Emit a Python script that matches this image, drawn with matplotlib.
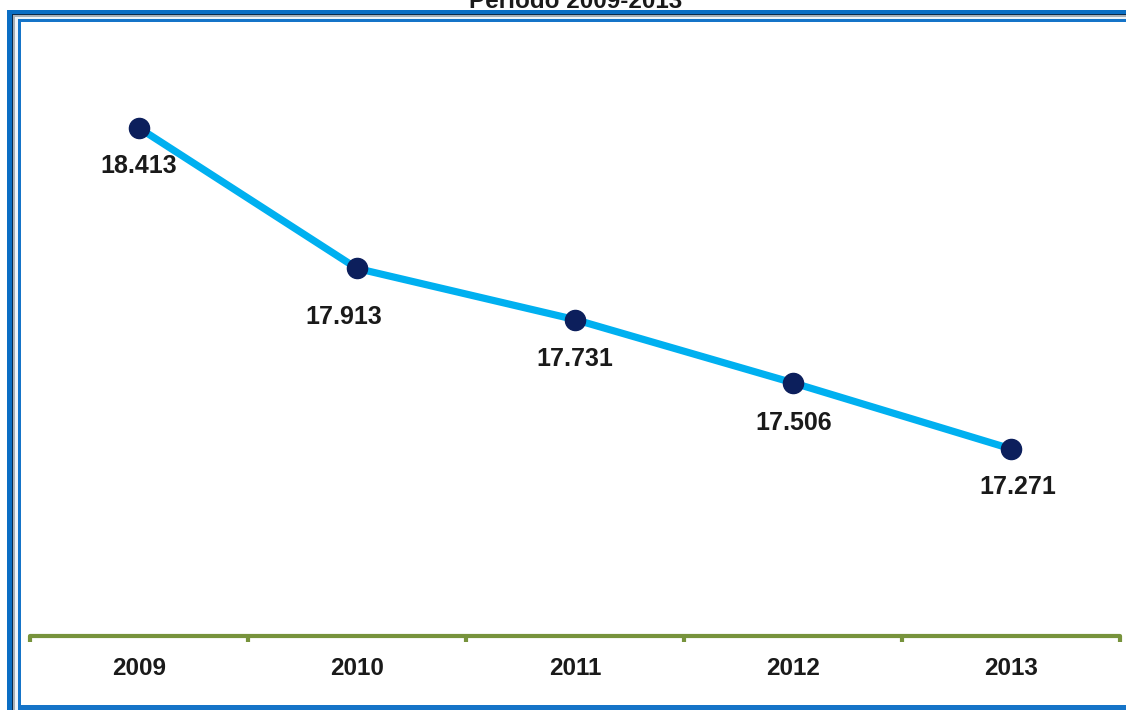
import matplotlib
matplotlib.use("Agg")
import matplotlib.pyplot as plt
from matplotlib.patches import Rectangle
from matplotlib.ticker import FixedLocator

plt.rcParams['font.family'] = ['Liberation Sans', 'DejaVu Sans']

# data
years = ['2009', '2010', '2011', '2012', '2013']
values = [18.413, 17.913, 17.731, 17.506, 17.271]
value_labels = ['18.413', '17.913', '17.731', '17.506', '17.271']
title = 'Periodo 2009-2013'

W, H = 1126, 710
fig = plt.figure(figsize=(W / 100, H / 100), dpi=100)

# frame drawn in pixel space on a background axes
bg = fig.add_axes([0, 0, 1, 1])
bg.set_xlim(0, W)
bg.set_ylim(H, 0)
bg.axis('off')
frame = [
    (7, 10, '#0A6EC4'),
    (12, 14, '#0B2A4A'),
    (13, 15, '#A8B0B8'),
    (15, 17, '#EEF4FA'),
    (18, 19, '#1574C8'),
]
for x0, y0, c in frame:
    bg.add_patch(Rectangle((x0, y0), W + 20 - x0, H + 20 - y0, color=c, lw=0))
bg.add_patch(Rectangle((21, 22), W + 20 - 21, 705 - 22, color='white', lw=0))

# title sits partly above the top edge, as in the source
fig.text(576 / W, 1 - 8 / H, title, ha='center', va='baseline',
         fontsize=17.5, fontweight='bold', color='#1a1a1a')

ax = fig.add_axes([30 / W, (H - 636) / H, 1090 / W, (636 - 22) / H])
ax.patch.set_alpha(0)
x = list(range(len(years)))
ax.plot(x, values, color='#00B0F0', lw=5.2, solid_capstyle='round', zorder=2)
ax.plot(x, values, 'o', color='#0C1F5C', ms=14.5, zorder=3)

# label offsets in pixels (dx, dy downwards)
offsets = [(0, 38), (-13, 49), (0, 39), (1, 40), (7, 38)]
for xi, v, lab, off in zip(x, values, value_labels, offsets):
    ax.annotate(lab, (xi, v), xytext=(off[0] * 0.72, -off[1] * 0.72),
                textcoords='offset points', ha='center', va='center',
                fontsize=18, fontweight='bold', color='#1a1a1a')

ax.set_xlim(-0.5, 4.5)
ax.set_ylim(16.605, 18.79)
for s in ['top', 'right', 'left']:
    ax.spines[s].set_visible(False)
ax.spines['bottom'].set_color('#77933C')
ax.spines['bottom'].set_linewidth(3)
ax.spines['bottom'].set_capstyle('round')
ax.set_yticks([])
ax.set_xticks(x)
ax.set_xticklabels(years, fontsize=17.5, fontweight='bold', color='#1a1a1a')
ax.tick_params(axis='x', which='major', length=0, pad=15)
ax.xaxis.set_minor_locator(FixedLocator([i - 0.5 for i in range(len(years) + 1)]))
ax.tick_params(axis='x', which='minor', length=4.5, width=3, color='#77933C')

fig.savefig('out.png', dpi=100)
